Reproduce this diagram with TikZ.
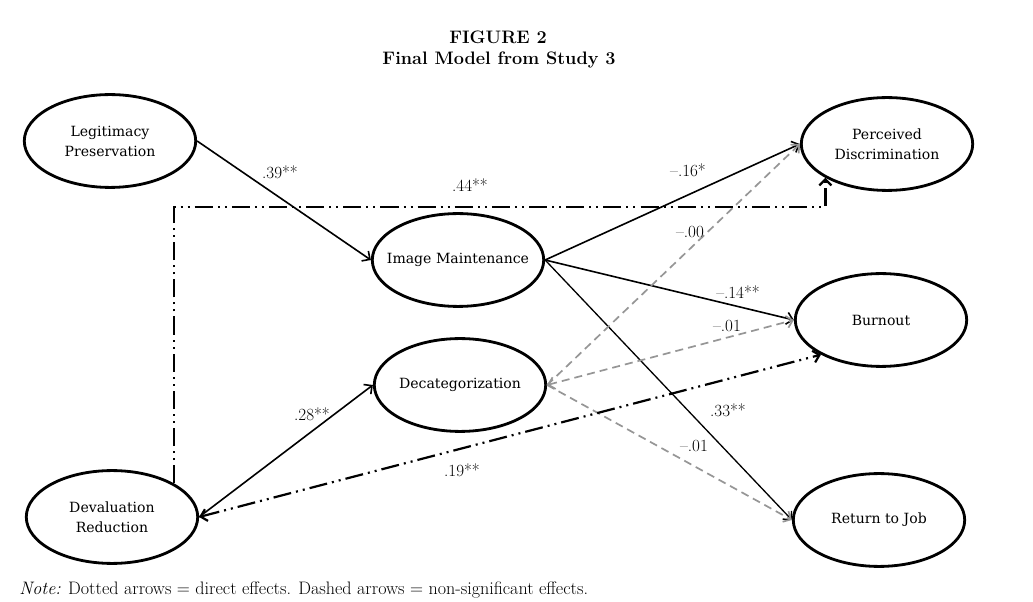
\documentclass[tikz,border=0pt]{standalone}
\usepackage{fontspec}
\newfontfamily\nodefont{DejaVu Serif}
\usetikzlibrary{arrows.meta}
\usetikzlibrary{shapes.geometric}
\definecolor{nsgray}{RGB}{150,150,150}

\begin{document}
\begin{tikzpicture}[
        >={Straight Barb[length=6pt,width=12pt]},
        latent/.style={ellipse, draw, line width=2.8pt, minimum width=6.0cm,
                       minimum height=3.25cm, inner xsep=-14pt, inner ysep=0pt,
                       align=center, font=\nodefont\fontsize{14}{20}\selectfont},
        effect/.style={->, line width=1.6pt},
        nonsig/.style={->, line width=1.7pt, nsgray, dash pattern=on 8pt off 5pt},
        direct/.style={->, line width=2.2pt,
                       dash pattern=on 18pt off 5pt on 2pt off 5pt on 2pt off 5pt},
        coef/.style={font=\fontsize{17}{19}\selectfont},
    ]
    \useasboundingbox (0cm, 0cm) rectangle (36.155cm, 21.035cm);

    \node[font=\bfseries\fontsize{18}{21}\selectfont] (fig) at (17.43cm, 19.74cm) {FIGURE 2};
    \node[font=\bfseries\fontsize{18}{21}\selectfont] (title) at (17.465cm, 18.935cm) {Final Model from Study 3};

    \node[latent] (lp)  at (3.85cm, 16.10cm)   {Legitimacy\\Preservation};
    \node[latent] (im)  at (16.03cm, 11.935cm) {Image Maintenance};
    \node[latent] (dec) at (16.10cm, 7.56cm)   {Decategorization};
    \node[latent] (dr)  at (3.92cm, 2.94cm)    {Devaluation\\Reduction};
    \node[latent] (pd)  at (31.045cm, 15.995cm) {Perceived\\Discrimination};
    \node[latent] (bo)  at (30.835cm, 9.835cm) {Burnout};
    \node[latent] (rj)  at (30.765cm, 2.835cm) {Return to Job};

    \coordinate (top) at (0cm, 13.79cm);

    \draw[effect] (lp.east) -- (im.west);
    \draw[effect] (dr.east) -- (dec.west);
    \draw[effect] (im.east) -- (pd.west);
    \draw[effect] (im.east) -- (bo.west);
    \draw[effect, line width=1.3pt] (im.east) -- (rj.west);

    \draw[nonsig] (dec.east) -- (pd.west);
    \draw[nonsig, <->] (dec.east) -- (bo.west);
    \draw[nonsig] (dec.east) -- (rj.west);

    \draw[direct] (dr.north east) |- (pd.south west |- top) -- (pd.south west);
    \draw[direct, <->] (dr.east) -- (bo.-150);

    \node[coef] (c1)  at (9.80cm, 15.015cm)  {.39**};
    \node[coef] (c2)  at (16.45cm, 14.56cm)  {.44**};
    \node[coef] (c3)  at (24.08cm, 15.085cm) {--.16*};
    \node[coef] (c4)  at (24.15cm, 12.915cm) {--.00};
    \node[coef] (c5)  at (25.83cm, 10.815cm) {--.14**};
    \node[coef] (c6)  at (25.445cm, 9.625cm) {--.01};
    \node[coef] (c7)  at (10.92cm, 6.545cm)  {.28**};
    \node[coef] (c8)  at (25.48cm, 6.685cm)  {.33**};
    \node[coef] (c9)  at (24.29cm, 5.425cm)  {--.01};
    \node[coef] (c10) at (16.17cm, 4.585cm)  {.19**};

    \node[coef, anchor=west, font=\fontsize{18}{20}\selectfont] (note) at (0.55cm, 0.385cm)
        {\textit{Note:} Dotted arrows = direct effects. Dashed arrows = non-significant effects.};
\end{tikzpicture}
\end{document}
